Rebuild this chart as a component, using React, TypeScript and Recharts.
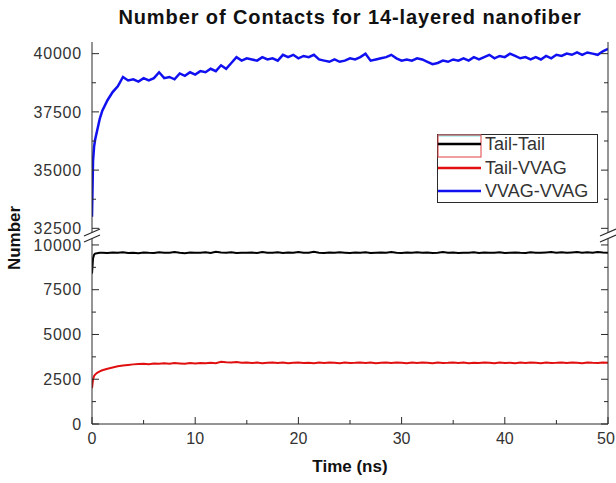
import { LineChart, Line, XAxis, YAxis, Legend } from "recharts";

// time in ns (denser at the start where the curves rise)
const times = [
  0, 0.1, 0.2, 0.3, 0.5, 0.75,
  1, 1.5, 2, 2.5, 3, 3.5, 4, 4.5, 5, 5.5,
  6, 6.5, 7, 7.5, 8, 8.5, 9, 9.5, 10, 10.5,
  11, 11.5, 12, 12.5, 13, 13.5, 14, 14.5, 15, 15.5,
  16, 16.5, 17, 17.5, 18, 18.5, 19, 19.5, 20, 20.5,
  21, 21.5, 22, 22.5, 23, 23.5, 24, 24.5, 25, 25.5,
  26, 26.5, 27, 27.5, 28, 28.5, 29, 29.5, 30, 30.5,
  31, 31.5, 32, 32.5, 33, 33.5, 34, 34.5, 35, 35.5,
  36, 36.5, 37, 37.5, 38, 38.5, 39, 39.5, 40, 40.5,
  41, 41.5, 42, 42.5, 43, 43.5, 44, 44.5, 45, 45.5,
  46, 46.5, 47, 47.5, 48, 48.5, 49, 49.5, 50,
];

const tailTail = [
  8400, 9250, 9450, 9520, 9540, 9560,
  9570, 9550, 9580, 9560, 9590, 9550, 9570, 9540, 9580, 9560,
  9550, 9590, 9560, 9570, 9600, 9560, 9540, 9580, 9560, 9570,
  9590, 9550, 9620, 9580, 9560, 9590, 9550, 9570, 9560, 9580,
  9550, 9600, 9570, 9560, 9590, 9550, 9580, 9560, 9600, 9570,
  9560, 9620, 9570, 9550, 9580, 9560, 9590, 9570, 9550, 9580,
  9560, 9590, 9550, 9570, 9580, 9560, 9600, 9570, 9550, 9580,
  9570, 9590, 9560, 9580, 9550, 9570, 9600, 9560, 9580, 9550,
  9570, 9560, 9590, 9550, 9580, 9570, 9560, 9590, 9550, 9570,
  9580, 9560, 9550, 9590, 9570, 9560, 9580, 9600, 9570, 9590,
  9560, 9580, 9600, 9570, 9590, 9560, 9600, 9580, 9570,
];

const tailVvag = [
  2000, 2480, 2680, 2760, 2860, 2940,
  3000, 3090, 3160, 3220, 3270, 3300, 3330, 3350, 3360, 3340,
  3380, 3360, 3390, 3370, 3400, 3380, 3360, 3400, 3380, 3410,
  3390, 3420, 3400, 3480, 3450, 3430, 3460, 3420, 3440, 3410,
  3430, 3400, 3420, 3440, 3410, 3430, 3400, 3420, 3440, 3410,
  3420, 3400, 3430, 3410, 3440, 3420, 3400, 3430, 3410, 3420,
  3440, 3410, 3430, 3400, 3420, 3440, 3410, 3430, 3420, 3400,
  3430, 3410, 3440, 3420, 3400, 3430, 3410, 3420, 3440, 3410,
  3430, 3400, 3420, 3410, 3440, 3420, 3400, 3430, 3410, 3420,
  3400, 3430, 3410, 3440, 3420, 3400, 3430, 3410, 3420, 3440,
  3410, 3430, 3420, 3400, 3440, 3420, 3410, 3430, 3420,
];

const vvagVvag = [
  33000, 35400, 36000, 36300, 36700, 37200,
  37550, 38000, 38350, 38600, 39000, 38850, 38900, 38800, 38950, 38850,
  38950, 39200, 38950, 39000, 38900, 39150, 39050, 39200, 39100, 39250,
  39200, 39350, 39250, 39500, 39350, 39600, 39850, 39700, 39800, 39750,
  39700, 39850, 39750, 39800, 39700, 39950, 39850, 39950, 39800, 39900,
  39850, 39950, 39750, 39700, 39650, 39750, 39650, 39700, 39800, 39750,
  39850, 40000, 39700, 39750, 39800, 39850, 39950, 39800, 39700, 39750,
  39700, 39800, 39750, 39650, 39550, 39600, 39700, 39650, 39750, 39700,
  39800, 39700, 39850, 39750, 39850, 39950, 39800, 39900, 39850, 40000,
  39900, 39800, 39850, 39750, 39850, 39750, 39900, 39800, 39950, 39900,
  40000, 39950, 40050, 39950, 40050, 40000, 39950, 40100, 40200,
];

const xTicks = [0, 5, 10, 15, 20, 25, 30, 35, 40, 45, 50];
const xMajors = [0, 10, 20, 30, 40, 50];
const upperTicks = [32500, 33750, 35000, 36250, 37500, 38750, 40000];
const upperMajors = [32500, 35000, 37500, 40000];
const lowerTicks = [0, 1250, 2500, 3750, 5000, 6250, 7500, 8750, 10000];
const lowerMajors = [0, 2500, 5000, 7500, 10000];

const series = [
  { key: "tailTail", name: "Tail-Tail", color: "#000000" },
  { key: "tailVvag", name: "Tail-VVAG", color: "#e01010" },
  { key: "vvagVvag", name: "VVAG-VVAG", color: "#1010f0" },
];

const data = times.map((t, i) => ({
  t,
  tailTail: tailTail[i],
  tailVvag: tailVvag[i],
  vvagVvag: vvagVvag[i],
}));

const AXIS = "#2a2a2a";
const FONT = "'Liberation Sans', Arial, sans-serif";

type Side = "left" | "right" | "top" | "bottom";

function makeTick(side: Side, majors: number[], labels: boolean) {
  return (props: any) => {
    const { x, y, payload } = props;
    const v = payload.value;
    const major = majors.includes(v);
    const len = major ? 7 : 4;
    let line;
    if (side === "left") line = <line x1={x} y1={y} x2={x + len} y2={y} stroke={AXIS} />;
    else if (side === "right") line = <line x1={x} y1={y} x2={x - len} y2={y} stroke={AXIS} />;
    else if (side === "top") line = <line x1={x} y1={y} x2={x} y2={y + len} stroke={AXIS} />;
    else line = <line x1={x} y1={y} x2={x} y2={y - len} stroke={AXIS} />;
    let text = null;
    if (labels && major) {
      if (side === "left")
        text = (
          <text x={x - 10} y={y} dy="0.36em" textAnchor="end" fill="#333" fontSize={16} fontFamily={FONT} letterSpacing={0.8}>
            {v}
          </text>
        );
      else
        text = (
          <text x={v === 50 ? x - 2 : x} y={y + 8} dy="0.75em" textAnchor="middle" fill="#333" fontSize={16} fontFamily={FONT}>
            {v}
          </text>
        );
    }
    return (
      <g>
        {line}
        {text}
      </g>
    );
  };
}

function LegendBox() {
  const rows = [10, 34, 57];
  return (
    <svg width={162} height={70} style={{ display: "block" }}>
      <rect x={0.5} y={0.5} width={160} height={68} fill="#fff" stroke={AXIS} />
      <line x1={1} y1={1.5} x2={44} y2={1.5} stroke="#80e4ea" strokeWidth={2} />
      <rect x={1} y={1} width={43} height={22} fill="none" stroke="#e04040" />
      {series.map((s, i) => (
        <g key={s.key}>
          <line x1={1} y1={rows[i]} x2={44} y2={rows[i]} stroke={s.color} strokeWidth={2.5} />
          <text x={48} y={rows[i]} dy="0.36em" fontSize={18} fontFamily={FONT} fill="#333">
            {s.name}
          </text>
        </g>
      ))}
    </svg>
  );
}

function BreakMark({ x }: { x: number }) {
  return (
    <g>
      <polygon points={`${x - 8},${236} ${x + 8},${229} ${x + 8},${235} ${x - 8},${242}`} fill="#fff" />
      <line x1={x - 8} y1={236} x2={x + 8} y2={229} stroke={AXIS} strokeWidth={1.2} />
      <line x1={x - 8} y1={242} x2={x + 8} y2={235} stroke={AXIS} strokeWidth={1.2} />
    </g>
  );
}

export default function App() {
  return (
    <div
      style={{
        position: "absolute",
        left: 0,
        top: 0,
        width: 616,
        height: 483,
        background: "#fff",
        fontFamily: FONT,
      }}
    >
      <div
        style={{
          position: "absolute",
          left: 92,
          width: 516,
          top: 6,
          textAlign: "center",
          fontSize: 20,
          letterSpacing: 0.9,
          fontWeight: "bold",
          color: "#111",
          whiteSpace: "nowrap",
        }}
      >
        Number of Contacts for 14-layered nanofiber
      </div>

      {/* lower panel: 0 - 10500 */}
      <div style={{ position: "absolute", left: 0, top: 236 }}>
        <LineChart width={616} height={247} data={data} margin={{ top: 0, right: 0, bottom: 29, left: 0 }}>
          <XAxis
            dataKey="t"
            type="number"
            domain={[0, 50]}
            ticks={xTicks}
            interval={0}
            height={30}
            tickSize={0}
            tickMargin={0}
            tickLine={false}
            stroke={AXIS}
            tick={makeTick("bottom", xMajors, true)}
            allowDataOverflow
          />
          <YAxis
            yAxisId="l"
            domain={[0, 10500]}
            ticks={lowerTicks}
            interval={0}
            width={92}
            tickSize={0}
            tickMargin={0}
            tickLine={false}
            stroke={AXIS}
            tick={makeTick("left", lowerMajors, true)}
            allowDataOverflow
          />
          <YAxis
            yAxisId="r"
            orientation="right"
            domain={[0, 10500]}
            ticks={lowerTicks}
            interval={0}
            width={8}
            tickSize={0}
            tickMargin={0}
            tickLine={false}
            stroke={AXIS}
            tick={makeTick("right", lowerMajors, false)}
            allowDataOverflow
          />
          <Line
            yAxisId="l"
            dataKey="tailTail"
            name="Tail-Tail"
            stroke="#000000"
            strokeWidth={2}
            dot={false}
            isAnimationActive={false}
          />
          <Line
            yAxisId="l"
            dataKey="tailVvag"
            name="Tail-VVAG"
            stroke="#e01010"
            strokeWidth={2}
            dot={false}
            isAnimationActive={false}
          />
        </LineChart>
      </div>

      {/* upper panel: 32300 - 40500 */}
      <div style={{ position: "absolute", left: 0, top: 0 }}>
        <LineChart width={616} height={250} data={data} margin={{ top: 42, right: 0, bottom: 17, left: 0 }}>
          <XAxis
            dataKey="t"
            type="number"
            orientation="top"
            domain={[0, 50]}
            ticks={xTicks}
            interval={0}
            height={0}
            tickSize={0}
            tickMargin={0}
            tickLine={false}
            stroke={AXIS}
            tick={makeTick("top", xMajors, false)}
            allowDataOverflow
          />
          <YAxis
            yAxisId="l"
            domain={[32300, 40500]}
            ticks={upperTicks}
            interval={0}
            width={92}
            tickSize={0}
            tickMargin={0}
            tickLine={false}
            stroke={AXIS}
            tick={makeTick("left", upperMajors, true)}
            allowDataOverflow
          />
          <YAxis
            yAxisId="r"
            orientation="right"
            domain={[32300, 40500]}
            ticks={upperTicks}
            interval={0}
            width={8}
            tickSize={0}
            tickMargin={0}
            tickLine={false}
            stroke={AXIS}
            tick={makeTick("right", upperMajors, false)}
            allowDataOverflow
          />
          <Legend
            layout="vertical"
            align="center"
            verticalAlign="middle"
            content={() => <LegendBox />}
            wrapperStyle={{ left: 437, top: 134, width: 162, height: 70 }}
          />
          <Line
            yAxisId="l"
            dataKey="vvagVvag"
            name="VVAG-VVAG"
            stroke="#1010f0"
            strokeWidth={2.5}
            dot={false}
            isAnimationActive={false}
          />
        </LineChart>
      </div>

      <svg
        width={616}
        height={483}
        style={{ position: "absolute", left: 0, top: 0, pointerEvents: "none" }}
      >
        <BreakMark x={92} />
        <BreakMark x={608} />
        <text
          x={14}
          y={238}
          transform="rotate(-90 14 238)"
          textAnchor="middle"
          dy="0.36em"
          fontSize={17}
          fontWeight="bold"
          fontFamily={FONT}
          fill="#111"
        >
          Number
        </text>
        <text
          x={350}
          y={466}
          textAnchor="middle"
          dy="0.36em"
          fontSize={17}
          fontWeight="bold"
          fontFamily={FONT}
          fill="#111"
        >
          Time (ns)
        </text>
      </svg>
    </div>
  );
}
